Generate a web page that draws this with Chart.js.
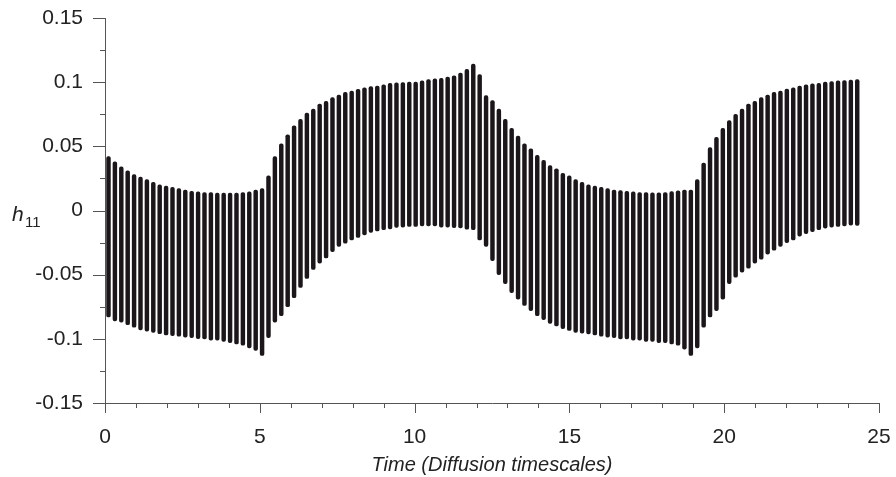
<!DOCTYPE html>
<html>
<head>
<meta charset="utf-8">
<script src="https://cdn.jsdelivr.net/npm/chart.js@4/dist/chart.umd.min.js"></script>
<style>
  body { margin: 0; background: #fff; }
  #wrap { width: 896px; height: 477px; }
</style>
</head>
<body>
<div id="wrap"><canvas id="graphique-h11" width="896" height="477"></canvas></div>
<script>
// one vertical stroke per oscillation, top and bottom
const upper = [
  0.042, 0.038, 0.034, 0.031, 0.028, 0.026, 0.024, 0.022, 0.020, 0.019,
  0.018, 0.017, 0.016, 0.015, 0.0145, 0.014, 0.014, 0.0135, 0.0135, 0.0135,
  0.0135, 0.014, 0.0145, 0.016, 0.017, 0.027, 0.042, 0.052, 0.059, 0.066,
  0.071, 0.076, 0.079, 0.083, 0.085, 0.088, 0.090, 0.092, 0.093, 0.0945,
  0.0955, 0.0965, 0.097, 0.098, 0.099, 0.0995, 0.0997, 0.100, 0.100, 0.101,
  0.102, 0.1026, 0.103, 0.104, 0.105, 0.107, 0.110, 0.114, 0.106, 0.0895,
  0.0856, 0.079, 0.071, 0.064, 0.058, 0.052, 0.048, 0.043, 0.039, 0.035,
  0.0325, 0.029, 0.027, 0.024, 0.022, 0.020, 0.019, 0.018, 0.017, 0.016,
  0.0155, 0.015, 0.0145, 0.014, 0.014, 0.0137, 0.0137, 0.014, 0.0147, 0.0153,
  0.016, 0.016, 0.024, 0.037, 0.049, 0.057, 0.064, 0.070, 0.075, 0.079,
  0.083, 0.085, 0.088, 0.090, 0.092, 0.093, 0.0947, 0.0955, 0.097, 0.098,
  0.0987, 0.099, 0.100, 0.1005, 0.101, 0.1013, 0.1016, 0.102
];
const lower = [
  -0.083, -0.086, -0.087, -0.089, -0.091, -0.093, -0.094, -0.095, -0.096, -0.097,
  -0.0975, -0.098, -0.0987, -0.099, -0.0998, -0.100, -0.101, -0.101, -0.102, -0.103,
  -0.104, -0.105, -0.107, -0.109, -0.113, -0.099, -0.087, -0.082, -0.075, -0.068,
  -0.060, -0.053, -0.046, -0.041, -0.037, -0.032, -0.028, -0.0255, -0.023, -0.021,
  -0.019, -0.017, -0.016, -0.015, -0.0143, -0.0132, -0.013, -0.0125, -0.0125, -0.012,
  -0.012, -0.012, -0.013, -0.013, -0.0133, -0.0135, -0.0146, -0.015, -0.023, -0.028,
  -0.039, -0.050, -0.057, -0.064, -0.069, -0.074, -0.078, -0.082, -0.085, -0.088,
  -0.090, -0.092, -0.0935, -0.095, -0.0956, -0.0961, -0.097, -0.098, -0.0987, -0.099,
  -0.100, -0.100, -0.101, -0.101, -0.102, -0.102, -0.103, -0.103, -0.104, -0.105,
  -0.108, -0.113, -0.107, -0.091, -0.083, -0.078, -0.069, -0.057, -0.052, -0.048,
  -0.045, -0.041, -0.038, -0.034, -0.031, -0.028, -0.025, -0.023, -0.020, -0.018,
  -0.0164, -0.015, -0.0137, -0.013, -0.0125, -0.012, -0.0114, -0.0116
];
// time of the first stroke and spacing between strokes (diffusion timescales)
const firstTime = 0.113;
const timeStep = 0.2067;

const xTicksMajor = [0, 5, 10, 15, 20, 25];
const yTicksMajor = [0.15, 0.1, 0.05, 0, -0.05, -0.1, -0.15];
const xTitle = "Time (Diffusion timescales)";

const fontFamily = "'Liberation Sans', Arial, Helvetica, sans-serif";
Chart.defaults.font.family = fontFamily;
Chart.defaults.color = "#222";

const points = [];
for (let i = 0; i < upper.length; i++) {
    points.push({x: firstTime + i * timeStep, y: [lower[i], upper[i]]});
}

function isMajor(list, v) {
    for (let k = 0; k < list.length; k++) {
        if (Math.abs(list[k] - v) < 1e-6) return true;
    }
    return false;
}

// tick marks, long for labelled values and short between them
const tickMarks = {
    id: "tickMarks",
    afterDraw(chart) {
        const ctx = chart.ctx;
        const xs = chart.scales.x;
        const ys = chart.scales.y;
        ctx.save();
        ctx.strokeStyle = "#555";
        ctx.lineWidth = 1;
        ctx.beginPath();
        for (let t = 0; t <= 25; t++) {
            const px = Math.round(xs.getPixelForValue(t)) + 0.5;
            const len = isMajor(xTicksMajor, t) ? 10 : 5;
            ctx.moveTo(px, ys.bottom);
            ctx.lineTo(px, ys.bottom + len);
        }
        for (let k = -6; k <= 6; k++) {
            const v = k * 0.025;
            const py = Math.round(ys.getPixelForValue(v)) + 0.5;
            const len = isMajor(yTicksMajor, v) ? 12 : 5;
            ctx.moveTo(xs.left, py);
            ctx.lineTo(xs.left - len, py);
        }
        ctx.stroke();

        // y axis name: h with subscript 11
        ctx.fillStyle = "#222";
        ctx.textBaseline = "alphabetic";
        ctx.font = "italic 21px " + fontFamily;
        ctx.fillText("h", 12, 221);
        ctx.font = "15px " + fontFamily;
        ctx.fillText("11", 25, 227);
        ctx.restore();
    }
};

function noOverflow(s) {
    s.paddingTop = 0;
    s.paddingBottom = 0;
    s.paddingLeft = 0;
    s.paddingRight = 0;
}

const config = {
    type: "bar",
    data: {
        datasets: [{
            data: points,
            backgroundColor: "#1b1619",
            borderWidth: 0,
            barThickness: 3.8,
            borderRadius: 1.9,
            borderSkipped: false
        }]
    },
    options: {
        responsive: false,
        animation: false,
        layout: {padding: {top: 18, right: 17, bottom: 0, left: 0}},
        plugins: {legend: {display: false}, tooltip: {enabled: false}},
        scales: {
            x: {
                type: "linear",
                min: 0,
                max: 25,
                offset: false,
                grid: {display: true, offset: false, drawOnChartArea: false, drawTicks: false},
                border: {display: true, color: "#555", width: 1},
                ticks: {
                    stepSize: 1,
                    autoSkip: false,
                    maxRotation: 0,
                    padding: 22,
                    font: {size: 21},
                    callback: v => isMajor(xTicksMajor, v) ? String(v) : ""
                },
                title: {
                    display: true,
                    text: xTitle,
                    font: {size: 20, style: "italic"},
                    padding: {top: 0, bottom: 0}
                },
                afterFit: s => { s.height = 74; noOverflow(s); }
            },
            y: {
                min: -0.15,
                max: 0.15,
                grid: {display: true, drawOnChartArea: false, drawTicks: false},
                border: {display: true, color: "#555", width: 1},
                ticks: {
                    stepSize: 0.025,
                    autoSkip: false,
                    padding: 22,
                    font: {size: 21},
                    callback: v => isMajor(yTicksMajor, v) ? String(Math.round(v * 100) / 100) : ""
                },
                afterFit: s => { s.width = 105; noOverflow(s); }
            }
        }
    },
    plugins: [tickMarks]
};

const graphique = new Chart(document.querySelector("#graphique-h11"), config);
</script>
</body>
</html>
